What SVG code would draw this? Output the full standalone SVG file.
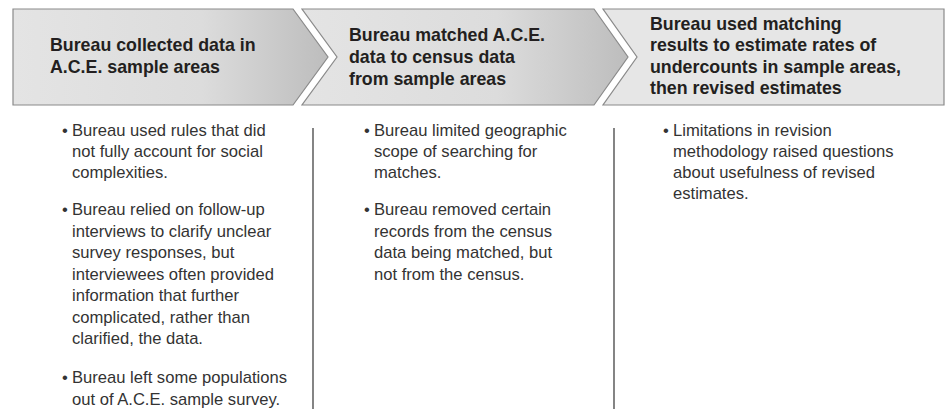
<svg xmlns="http://www.w3.org/2000/svg" width="947" height="409" viewBox="0 0 947 409">
<defs>
<linearGradient id="g" x1="0" y1="0" x2="1" y2="0">
<stop offset="0" stop-color="#e4e4e4"/>
<stop offset="0.6" stop-color="#dcdcdc"/>
<stop offset="1" stop-color="#bdbdbd"/>
</linearGradient>
<style>
.chev{stroke:#8a8a8a;stroke-width:1.2;fill:url(#g)}
.last{stroke:#8a8a8a;stroke-width:1.2;fill:#e6e6e6}
.h{font-family:"Liberation Sans",Arial,sans-serif;font-weight:bold;font-size:17.8px;fill:#231f20}
.b{font-family:"Liberation Sans",Arial,sans-serif;font-size:16.6px;fill:#333}
.div{stroke:#333;stroke-width:1.2}
</style>
</defs>
<rect width="947" height="409" fill="#fff"/>
<g id="step1">
<polygon class="chev" points="13,9 293,9 328,57 293,105 13,105"/>
<text class="h" x="50" y="51">Bureau collected data in</text>
<text class="h" x="50" y="73">A.C.E. sample areas</text>
</g>
<g id="step2">
<polygon class="chev" points="302,9 594,9 628,57 594,105 302,105 337,57"/>
<text class="h" x="349" y="41">Bureau matched A.C.E.</text>
<text class="h" x="349" y="63">data to census data</text>
<text class="h" x="349" y="85">from sample areas</text>
</g>
<g id="step3">
<polygon class="last" points="603,9 944,9 944,105 603,105 637,57"/>
<text class="h" x="650" y="30">Bureau used matching</text>
<text class="h" x="650" y="51">results to estimate rates of</text>
<text class="h" x="650" y="73">undercounts in sample areas,</text>
<text class="h" x="650" y="94">then revised estimates</text>
</g>
<g id="connectors">
<line class="div" x1="313" y1="128" x2="313" y2="409"/>
<line class="div" x1="614" y1="128" x2="614" y2="409"/>
</g>
<g id="col1" class="b">
<text x="62" y="136">•</text>
<text x="72" y="136">Bureau used rules that did</text>
<text x="72" y="157">not fully account for social</text>
<text x="72" y="178">complexities.</text>
<text x="62" y="215">•</text>
<text x="72" y="215">Bureau relied on follow-up</text>
<text x="72" y="237">interviews to clarify unclear</text>
<text x="72" y="258">survey responses, but</text>
<text x="72" y="280">interviewees often provided</text>
<text x="72" y="301">information that further</text>
<text x="72" y="323">complicated, rather than</text>
<text x="72" y="344">clarified, the data.</text>
<text x="62" y="383">•</text>
<text x="72" y="383">Bureau left some populations</text>
<text x="72" y="405">out of A.C.E. sample survey.</text>
</g>
<g id="col2" class="b">
<text x="364" y="136">•</text>
<text x="374" y="136">Bureau limited geographic</text>
<text x="374" y="157">scope of searching for</text>
<text x="374" y="178">matches.</text>
<text x="364" y="215">•</text>
<text x="374" y="215">Bureau removed certain</text>
<text x="374" y="237">records from the census</text>
<text x="374" y="258">data being matched, but</text>
<text x="374" y="280">not from the census.</text>
</g>
<g id="col3" class="b">
<text x="663" y="136">•</text>
<text x="673" y="136">Limitations in revision</text>
<text x="673" y="157">methodology raised questions</text>
<text x="673" y="178">about usefulness of revised</text>
<text x="673" y="199">estimates.</text>
</g>
</svg>
